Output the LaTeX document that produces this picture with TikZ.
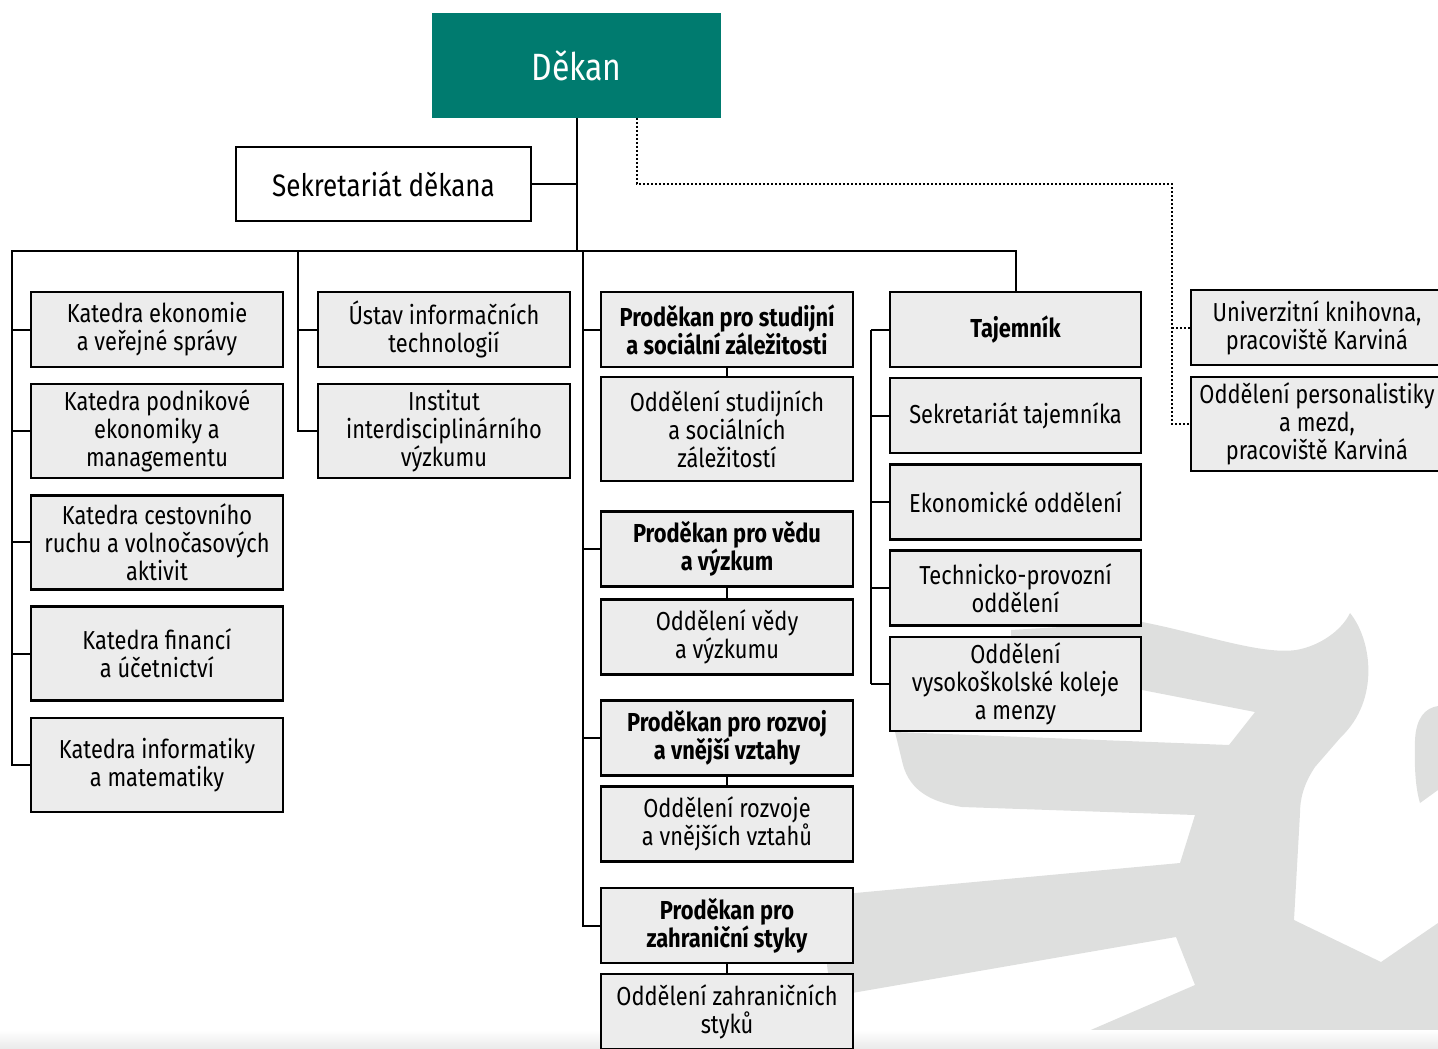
\documentclass[tikz,border=0pt]{standalone}
\usepackage{fontspec}
\setmainfont{Fira Sans}[FakeStretch=0.84]
\usetikzlibrary{positioning}

\definecolor{dekanteal}{RGB}{0,123,111}
\definecolor{unitgray}{RGB}{236,236,236}
\definecolor{markgray}{RGB}{222,223,222}

\tikzset{
  unit/.style={draw, line width=1.2pt, fill=unitgray, minimum width=126pt,
    minimum height=37.5pt, inner sep=2pt, outer sep=0pt, align=center,
    font=\fontsize{13}{14}\selectfont},
  head/.style={unit, font=\fontsize{13}{14}\selectfont\bfseries},
  tall/.style={minimum height=47pt},
  conn/.style={line width=1pt},
  dotline/.style={line width=1pt, dash pattern=on 1pt off 1pt},
}

\begin{document}
\begin{tikzpicture}[x=0.5pt, y=-0.5pt]
\useasboundingbox (0,0) rectangle (1438,1048);
\clip (0,0) rectangle (1438,1048);

% watermark in the background
\fill[markgray] (1011,630) -- (1142,622)
  .. controls (1200,633) and (1260,655) .. (1296,650)
  .. controls (1320,646) and (1342,630) .. (1350,613)
  .. controls (1372,640) and (1380,700) .. (1341,737) -- (1315,767)
  .. controls (1303,785) and (1300,800) .. (1300,813) -- (1294,920)
  -- (1381,962) -- (1438,923) -- (1438,1048) -- (1049,1048) -- (1195,985)
  -- (1176,937) -- (852,993) .. controls (835,993) and (827,980) .. (827,962)
  -- (829,910) .. controls (830,898) and (840,893) .. (855,893)
  -- (1180,863) -- (1195,815) -- (962,807)
  .. controls (930,802) and (910,790) .. (903,765) -- (895,732)
  -- (1229,745) -- (1255,712) -- (1142,690) -- (1011,690) -- cycle;
\fill[markgray] (1438,706) .. controls (1425,708) and (1416,718) .. (1415,740)
  .. controls (1414,770) and (1416,790) .. (1420,803) -- (1438,790) -- cycle;
\shade[top color=white, bottom color=black!8] (0,1030) rectangle (1438,1048);

% dean
\node[fill=dekanteal, text=white, minimum width=144.5pt, minimum height=52.5pt,
  font=\fontsize{19}{24}\selectfont] (dekan) at (576.5,65.5) {Děkan};
\node[draw, line width=1.2pt, fill=white, minimum width=147.5pt, minimum height=37pt,
  font=\fontsize{15.5}{18}\selectfont] (sekr) at (383.5,184) {Sekretariát děkana};

% departments
\node[unit] (kat1) at (157,329.5) {Katedra ekonomie\\a veřejné správy};
\node[unit, tall, below=8.6pt of kat1] (kat2) {Katedra podnikové\\ekonomiky a\\managementu};
\node[unit, tall, below=8.6pt of kat2] (kat3) {Katedra cestovního\\ruchu a volnočasových\\aktivit};
\node[unit, tall, below=8.6pt of kat3] (kat4) {Katedra financí\\a účetnictví};
\node[unit, tall, below=8.6pt of kat4] (kat5) {Katedra informatiky\\a matematiky};

\node[unit] (ustav) at (444,329.5) {Ústav informačních\\technologií};
\node[unit, tall, below=8.5pt of ustav] (inst) {Institut\\interdisciplinárního\\výzkumu};

% vice-deans
\node[head] (pro1) at (727,329.5) {Proděkan pro studijní\\a sociální záležitosti};
\node[unit, minimum height=52pt, below=5pt of pro1] (odd1) {Oddělení studijních\\a sociálních\\záležitostí};
\node[head] (pro2) at (727,549) {Proděkan pro vědu\\a výzkum};
\node[unit, below=6.5pt of pro2] (odd2) {Oddělení vědy\\a výzkumu};
\node[head] (pro3) at (727,738) {Proděkan pro rozvoj\\a vnější vztahy};
\node[unit, below=5.5pt of pro3] (odd3) {Oddělení rozvoje\\a vnějších vztahů};
\node[head] (pro4) at (727,925.5) {Proděkan pro\\zahraniční styky};
\node[unit, below=5.5pt of pro4] (odd4) {Oddělení zahraničních\\styků};

% secretary
\node[head, minimum width=125.5pt] (tajemnik) at (1015.5,329.5) {Tajemník};
\node[unit, minimum width=125.5pt, below=5.6pt of tajemnik] (sekrtaj) {Sekretariát tajemníka};
\node[unit, minimum width=125.5pt, below=5.6pt of sekrtaj] (ekon) {Ekonomické oddělení};
\node[unit, minimum width=125.5pt, below=5.6pt of ekon] (tech) {Technicko-provozní\\oddělení};
\node[unit, tall, minimum width=125.5pt, below=5.6pt of tech] (kolej) {Oddělení\\vysokoškolské koleje\\a menzy};

% Karvina units
\node[unit] (knih) at (1317,327.5) {Univerzitní knihovna,\\pracoviště Karviná};
\node[unit, tall, below=6pt of knih] (pers) {Oddělení personalistiky\\a mezd,\\pracoviště Karviná};

% connectors
\coordinate (busL) at (12,251);
\coordinate (busR) at (1015.5,251);
\coordinate (busU) at (298,251);
\coordinate (busP) at (583,251);
\coordinate (railT) at (871,0);
\coordinate (dotS) at (637,118);
\coordinate (dotC) at (1172,184);

\draw[conn] (dekan.south) -- (dekan.south |- busL);
\draw[conn] (sekr.east) -- (sekr.east -| dekan.south);
\draw[conn] (kat5.west) -| (busL) -- (busR) -- (tajemnik.north);
\foreach \n in {kat1,kat2,kat3,kat4}
  \draw[conn] (\n.west -| busL) -- (\n.west);
\draw[conn] (inst.west) -| (busU);
\draw[conn] (ustav.west -| busU) -- (ustav.west);
\draw[conn] (pro4.west) -| (busP);
\foreach \n in {pro1,pro2,pro3}
  \draw[conn] (\n.west -| busP) -- (\n.west);
\foreach \p/\o in {pro1/odd1,pro2/odd2,pro3/odd3,pro4/odd4}
  \draw[conn] (\p.south) -- (\o.north);
\draw[conn] (tajemnik.west -| railT) -- (kolej.west -| railT);
\foreach \n in {tajemnik,sekrtaj,ekon,tech,kolej}
  \draw[conn] (\n.west -| railT) -- (\n.west);
\draw[dotline] (dotS) |- (dotC) |- (pers.west);
\draw[dotline] (knih.west -| dotC) -- (knih.west);
\end{tikzpicture}
\end{document}
